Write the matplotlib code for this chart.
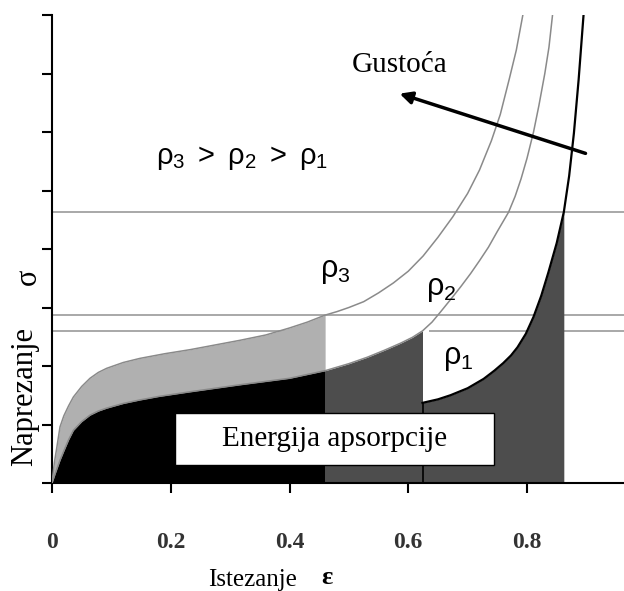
import numpy as np
import matplotlib
matplotlib.use("Agg")
import matplotlib.pyplot as plt
from matplotlib.patches import Rectangle

plt.rcParams["mathtext.fontset"] = "custom"
plt.rcParams["mathtext.rm"] = "Liberation Sans"
plt.rcParams["mathtext.it"] = "Liberation Sans"

# strain / stress points (rho3 > rho2 > rho1)
eps3 = np.array([0, 0.004, 0.008, 0.0135, 0.02, 0.028, 0.036, 0.05, 0.064, 0.078, 0.092,
                 0.12, 0.148, 0.19, 0.233, 0.275, 0.317, 0.36, 0.40, 0.43, 0.46,
                 0.48, 0.5, 0.525, 0.55, 0.575, 0.6, 0.625, 0.65, 0.675, 0.7, 0.72,
                 0.74, 0.755, 0.77, 0.782, 0.793, 0.81])
sig3 = np.array([0, 0.35, 0.6, 0.96, 1.15, 1.32, 1.47, 1.65, 1.79, 1.89, 1.96,
                 2.06, 2.13, 2.21, 2.28, 2.36, 2.44, 2.53, 2.65, 2.75, 2.87,
                 2.93, 3.0, 3.1, 3.25, 3.42, 3.62, 3.88, 4.2, 4.55, 4.95, 5.35,
                 5.85, 6.3, 6.9, 7.4, 8.0, 9.2])

eps2 = np.array([0, 0.005, 0.0135, 0.02, 0.028, 0.036, 0.05, 0.064, 0.078, 0.092, 0.12,
                 0.148, 0.18, 0.233, 0.317, 0.40, 0.46, 0.5, 0.531, 0.56, 0.587,
                 0.607, 0.624, 0.64, 0.654, 0.67, 0.688, 0.705, 0.72, 0.735, 0.75,
                 0.769, 0.78, 0.79, 0.8, 0.811, 0.82, 0.83, 0.837, 0.843, 0.855])
sig2 = np.array([0, 0.15, 0.39, 0.55, 0.74, 0.9, 1.05, 1.16, 1.23, 1.28, 1.36,
                 1.42, 1.48, 1.56, 1.68, 1.79, 1.92, 2.04, 2.15, 2.27, 2.39,
                 2.49, 2.6, 2.75, 2.92, 3.12, 3.35, 3.58, 3.8, 4.03, 4.3,
                 4.63, 4.9, 5.2, 5.55, 6.0, 6.45, 7.0, 7.45, 8.0, 9.2])

eps1 = np.array([0, 0.01, 0.03, 0.06, 0.1, 0.2, 0.3, 0.4, 0.5, 0.57, 0.624, 0.65,
                 0.671, 0.7, 0.727, 0.745, 0.76, 0.773, 0.784, 0.798, 0.811, 0.824,
                 0.836, 0.85, 0.862, 0.871, 0.879, 0.887, 0.895, 0.905])
sig1 = np.array([0, 0.2, 0.5, 0.75, 0.9, 1.02, 1.1, 1.17, 1.24, 1.3, 1.37, 1.43,
                 1.5, 1.62, 1.78, 1.92, 2.05, 2.18, 2.32, 2.55, 2.84, 3.2,
                 3.6, 4.1, 4.63, 5.25, 5.98, 6.9, 7.97, 9.2])

# strain where each curve's absorbed energy region ends
lim3, lim2, lim1 = 0.46, 0.624, 0.862

x_ticks = [0, 0.2, 0.4, 0.6, 0.8]
x_tick_labels = ["0", "0.2", "0.4", "0.6", "0.8"]

light = "#b0b0b0"
dark = "#4d4d4d"
thin = "#8a8a8a"

fig = plt.figure(figsize=(6.24, 5.91), dpi=100)
ax = fig.add_axes([52 / 624, 108 / 591, 572 / 624, 468 / 591])
ax.set_xlim(0, 572 / 593.75)
ax.set_ylim(0, 8)

# plateau stress lines
s3_end = sig3[eps3 == lim3][0]
s2_end = sig2[eps2 == lim2][0]
s1_end = sig1[eps1 == lim1][0]
for s in [s3_end, s2_end, s1_end]:
    ax.axhline(s, color="#9a9a9a", lw=1.2, zorder=0.5)
# the gap in the lower line right of rho3
ax.add_patch(Rectangle((lim3, s2_end - 0.1), 0.175, 0.2, facecolor="white",
                       lw=0, zorder=0.8))

# energy areas
ax.fill_between(eps3, sig3, where=eps3 <= lim3, color=light, lw=0, zorder=1)
ax.fill_between(eps2, sig2, where=eps2 <= lim3, color="black", lw=0, zorder=2)
ax.fill_between(eps2, sig2, where=(eps2 >= lim3) & (eps2 <= lim2), color=dark, lw=0, zorder=2)
ax.fill_between(eps1, sig1, where=(eps1 >= lim2) & (eps1 <= lim1), color=dark, lw=0, zorder=2)

ax.plot(eps3, sig3, color=thin, lw=1.1, zorder=3)
ax.plot(eps2, sig2, color=thin, lw=1.1, zorder=3)
m1 = eps1 >= lim2
ax.plot(eps1[m1], sig1[m1], color="black", lw=1.6, zorder=3)
ax.vlines(lim2, 0, sig1[eps1 == lim2][0], color="black", lw=1.2, zorder=3)

# box
ax.add_patch(Rectangle((0.207, 0.31), 0.537, 0.89, facecolor="white",
                       edgecolor="black", lw=1, zorder=4))
ax.text(0.476, 0.75, "Energija apsorpcije", family="Liberation Serif", fontsize=21,
        ha="center", va="center", zorder=5)

ax.text(0.32, 5.56, r"$\rho_3\ >\ \rho_2\ >\ \rho_1$", fontsize=21, ha="center", va="center")
ax.text(0.477, 3.62, r"$\rho_3$", fontsize=22, ha="center", va="center")
ax.text(0.655, 3.31, r"$\rho_2$", fontsize=22, ha="center", va="center")
ax.text(0.684, 2.12, r"$\rho_1$", fontsize=22, ha="center", va="center")

ax.text(0.586, 7.15, "Gustoća", family="Liberation Serif", fontsize=21, ha="center", va="center")
ax.annotate("", xy=(0.581, 6.67), xytext=(0.903, 5.62),
            arrowprops=dict(arrowstyle="-|>", color="black", lw=2.5, mutation_scale=18),
            annotation_clip=False)

for side in ["top", "right"]:
    ax.spines[side].set_visible(False)
for side in ["left", "bottom"]:
    ax.spines[side].set_linewidth(1.5)

ax.set_yticks(np.arange(0, 9))
ax.tick_params(axis="x", length=7, width=1.5, pad=28)
ax.tick_params(axis="y", length=7, width=1.5, labelleft=False)
ax.set_xticks(x_ticks)
ax.set_xticklabels(x_tick_labels)
for lab in ax.get_xticklabels():
    lab.set_family("Liberation Serif")
    lab.set_fontweight("bold")
    lab.set_fontsize(17)
    lab.set_color("#333333")

fig.text(253 / 624, 1 - 580 / 591, "Istezanje", family="Liberation Serif", fontsize=18,
         ha="center", va="center")
fig.text(327 / 624, 1 - 578 / 591, "ε", family="Liberation Serif", fontsize=19,
         fontweight="bold", ha="center", va="center")
fig.text(25 / 624, 1 - 397 / 591, "Naprezanje", family="Liberation Serif", fontsize=22,
         rotation=90, ha="center", va="center")
fig.text(28 / 624, 1 - 277 / 591, "σ", family="Liberation Serif", fontsize=22,
         rotation=90, ha="center", va="center")

fig.savefig("out.png", dpi=100)
